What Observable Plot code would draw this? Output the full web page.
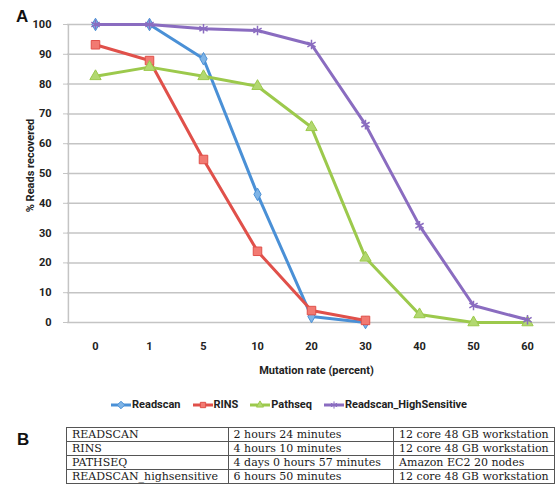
<!DOCTYPE html>
<html>
<head>
<meta charset="utf-8">
<script src="https://cdn.jsdelivr.net/npm/d3@7"></script>
<script src="https://cdn.jsdelivr.net/npm/@observablehq/plot@0.6"></script>
<style>
  html, body { margin: 0; padding: 0; background: #fff; }
  #wrap { position: relative; width: 555px; height: 488px; overflow: hidden; background: #fff; }
  .panel { position: absolute; z-index: 2; font-family: "Liberation Sans", Arial, sans-serif; font-weight: bold; font-size: 17px; color: #111; }
  #chart { position: absolute; left: 0; top: 0; z-index: 1; }
  #legend { position: absolute; top: 398px; left: 0; width: 555px; display: flex; justify-content: center; gap: 12px;
            font-family: Roboto, sans-serif; font-weight: bold; font-size: 11px; color: #222; padding-left: 23px; box-sizing: border-box; }
  #legend .item { display: flex; align-items: center; gap: 1px; }
  #legend svg { display: block; }
  table { position: absolute; left: 66px; top: 427px; border-collapse: collapse;
          font-family: "DejaVu Serif", "Liberation Serif", serif; font-size: 11px; color: #1a1a1a; }
  td { border: 1px solid #555; padding: 0 5px; height: 13px; line-height: 13px; white-space: nowrap; overflow: hidden; }
</style>
</head>
<body>
<div id="wrap">
  <div class="panel" style="left:16px; top:7px;">A</div>
  <div id="chart"></div>
  <div id="legend"></div>
  <div class="panel" style="left:17px; top:430px;">B</div>
  <table id="tbl"></table>
</div>
<script>
const rates = ["0", "1", "5", "10", "20", "30", "40", "50", "60"];
const seriesNames = ["Readscan", "RINS", "Pathseq", "Readscan_HighSensitive"];
const readscan = [100, 100, 88.5, 43, 2, 0];
const rins = [93.2, 87.9, 54.7, 23.9, 4, 0.7];
const pathseq = [82.6, 85.7, 82.6, 79.3, 65.5, 21.7, 2.7, 0, 0];
const highSensitive = [100, 100, 98.6, 98, 93.3, 66.4, 32.5, 5.7, 0.9];
const yTicks = [0, 10, 20, 30, 40, 50, 60, 70, 80, 90, 100];
const xTitle = "Mutation rate (percent)";
const yTitle = "% Reads recovered";

const tableMethods = ["READSCAN", "RINS", "PATHSEQ", "READSCAN_highsensitive"];
const tableTimes = ["2 hours 24 minutes", "4 hours 10 minutes", "4 days 0 hours 57 minutes", "6 hours 50 minutes"];
const tableHardware = ["12 core 48 GB workstation", "12 core 48 GB workstation", "Amazon EC2 20 nodes", "12 core 48 GB workstation"];

const styles = [
  {stroke: "#4a90d6", fill: "#7fb4e6", symbol: "diamond", r: 3.8},
  {stroke: "#e0504a", fill: "#f27a72", symbol: "square", r: 4.8},
  {stroke: "#9cc94c", fill: "#b2d870", symbol: "triangle", r: 4.2},
  {stroke: "#8a6cc0", fill: "none", symbol: "asterisk", r: 4.5}
];
const allValues = [readscan, rins, pathseq, highSensitive];

const data = [];
allValues.forEach((vals, si) => vals.forEach((v, i) => data.push({series: seriesNames[si], rate: rates[i], value: v})));

const marks = [
  Plot.ruleY(yTicks, {stroke: "#c4c4c4", strokeWidth: 1.5}),
  Plot.ruleX([rates[0]], {dx: -27.1, stroke: "#c4c4c4", strokeWidth: 1.5}),
];
seriesNames.forEach((name, si) => {
  const d = data.filter(r => r.series === name);
  const s = styles[si];
  marks.push(Plot.line(d, {x: "rate", y: "value", stroke: s.stroke, strokeWidth: 3}));
  marks.push(Plot.dot(d, {x: "rate", y: "value", symbol: () => s.symbol, r: s.r, fill: s.fill, stroke: s.stroke, strokeWidth: s.fill === "none" ? 1.5 : 1}));
});
marks.push(Plot.text([xTitle], {frameAnchor: "bottom", dy: 51, dx: 5, fontWeight: "bold", fontSize: 11, fill: "#222"}));
marks.push(Plot.text([yTitle], {frameAnchor: "left", textAnchor: "middle", dx: -37, dy: -8, rotate: -90, fontWeight: "bold", fontSize: 11, fill: "#222"}));

const chart = Plot.plot({
  width: 555,
  height: 385,
  marginTop: 24,
  marginBottom: 63,
  marginLeft: 67,
  marginRight: 0,
  style: {fontFamily: "Roboto, sans-serif", fontSize: "11px", fontWeight: "bold", color: "#222", background: "#fff"},
  x: {type: "point", domain: rates, padding: 0.5, label: null, tickSize: 0, tickPadding: 20},
  y: {domain: [0, 100], ticks: yTicks, label: null, tickSize: 4, tickPadding: 12},
  symbol: {type: "identity"},
  marks
});
// tint the y-axis tick stubs grey like the gridlines
d3.select(chart).selectAll('g[aria-label^="y-axis"] line, g[aria-label="y-axis tick"] path').attr("stroke", "#c4c4c4");
document.getElementById("chart").appendChild(chart);

// legend
const legend = document.getElementById("legend");
seriesNames.forEach((name, si) => {
  const s = styles[si];
  const item = document.createElement("div");
  item.className = "item";
  const sym = d3.symbol(s.symbol === "diamond" ? d3.symbolDiamond2 : s.symbol === "square" ? d3.symbolSquare2 : s.symbol === "triangle" ? d3.symbolTriangle2 : d3.symbolAsterisk, 36)();
  item.innerHTML = `<svg width="20" height="12" viewBox="-10 -6 20 12"><line x1="-10" x2="10" y1="0" y2="0" stroke="${s.stroke}" stroke-width="3"/><path d="${sym}" fill="${s.fill}" stroke="${s.stroke}" stroke-width="1"/></svg><span>${name}</span>`;
  legend.appendChild(item);
});

// table
const tbl = document.getElementById("tbl");
tableMethods.forEach((m, i) => {
  const tr = document.createElement("tr");
  [[m, 151], [tableTimes[i], 155], [tableHardware[i], 150]].forEach(([t, w]) => {
    const td = document.createElement("td");
    td.textContent = t;
    td.style.width = w + "px";
    td.style.maxWidth = w + "px";
    tr.appendChild(td);
  });
  tbl.appendChild(tr);
});
</script>
</body>
</html>
